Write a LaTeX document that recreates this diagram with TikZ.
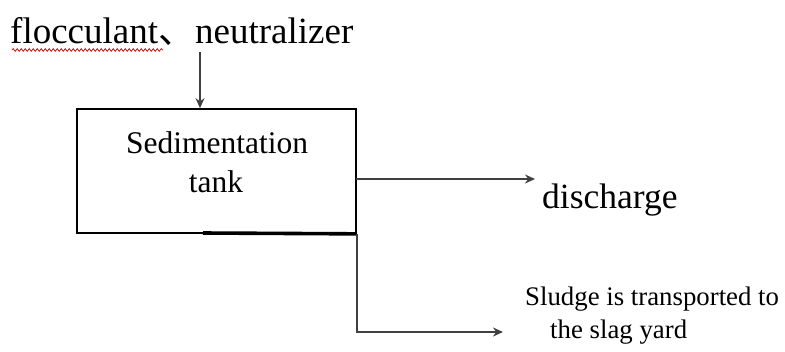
\documentclass[tikz,border=0pt]{standalone}
\usepackage{fontspec}
\setmainfont{Liberation Serif}
\newfontfamily\cjkfont{Noto Sans CJK SC}
\usetikzlibrary{arrows.meta,decorations.pathmorphing}

\begin{document}
\begin{tikzpicture}[x=1pt,y=-1pt,
  lbl/.style={anchor=base west,inner sep=0pt},
  tankbox/.style={draw=black,line width=1.7pt,minimum width=279pt,minimum height=124pt,inner sep=0pt},
  flow/.style={draw=black!75,line width=2.2pt,-{Stealth[length=10pt,width=9pt]}},
  spell/.style={draw=red!80!black,line width=0.7pt,decorate,decoration={snake,amplitude=1.3pt,segment length=4pt}}
]
  % page frame
  \useasboundingbox (0,0) rectangle (785,351);

  % chemicals dosed into the tank
  \node[lbl,font=\fontsize{37}{44}\selectfont] (chem) at (10,43)
    {flocculant{\cjkfont 、}neutralizer};
  \draw[spell] (12,50) -- (163,50);

  % sedimentation tank
  \node[tankbox] (tank) at (216.5,171) {};
  \node[lbl,anchor=base,font=\fontsize{31.5}{38}\selectfont] (t1) at (217,153) {Sedimentation};
  \node[lbl,anchor=base,font=\fontsize{31.5}{38}\selectfont] (t2) at (216,192) {tank};
  \draw[line width=3.6pt] (203,233) -- (tank.south east);

  % outlets
  \node[anchor=base west,inner xsep=7pt,inner ysep=0pt,font=\fontsize{35.5}{42}\selectfont] (dis) at (535,208) {discharge};
  \node[lbl,font=\fontsize{26.8}{32}\selectfont] (sl1) at (525,305) {Sludge is transported to};
  \node[lbl,font=\fontsize{26.8}{32}\selectfont] (sl2) at (550,338) {the slag yard};

  % connectors
  \coordinate (feed) at (200,52);
  \draw[flow] (feed) -- (feed |- tank.north);
  \coordinate (outA) at (356,179);
  \draw[flow] (outA) -- (dis.west |- outA);
  \coordinate (sludgetip) at (503,332);
  \draw[flow] (tank.south east) |- (sludgetip);
\end{tikzpicture}
\end{document}
